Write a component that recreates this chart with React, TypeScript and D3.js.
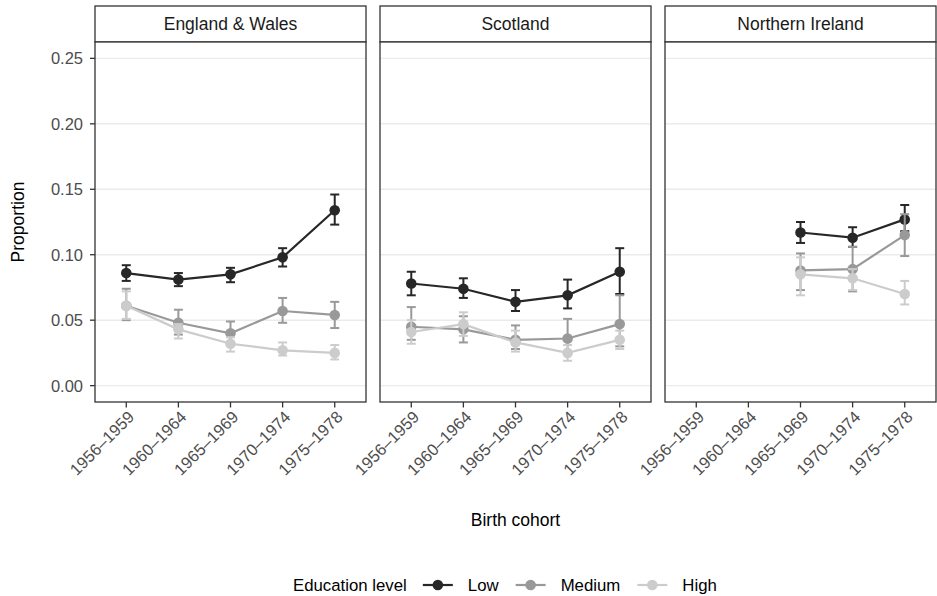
import React, { useRef, useEffect } from 'react';
import * as d3 from 'd3';

// Categories
const cohorts = ['1956–1959', '1960–1964', '1965–1969', '1970–1974', '1975–1978'];
const regions = ['England & Wales', 'Scotland', 'Northern Ireland'];
const levels = ['Low', 'Medium', 'High'];
const levelColors = ['#272727', '#999999', '#cccccc'];
const yTicks = [0, 0.05, 0.1, 0.15, 0.2, 0.25];

// England & Wales
const ewLow = [0.086, 0.081, 0.085, 0.098, 0.134];
const ewLowLo = [0.080, 0.076, 0.079, 0.091, 0.123];
const ewLowHi = [0.092, 0.086, 0.090, 0.105, 0.146];
const ewMed = [0.061, 0.048, 0.040, 0.057, 0.054];
const ewMedLo = [0.050, 0.039, 0.031, 0.048, 0.044];
const ewMedHi = [0.074, 0.058, 0.049, 0.067, 0.064];
const ewHigh = [0.061, 0.043, 0.032, 0.027, 0.025];
const ewHighLo = [0.051, 0.036, 0.026, 0.023, 0.020];
const ewHighHi = [0.072, 0.047, 0.037, 0.033, 0.031];

// Scotland
const scLow = [0.078, 0.074, 0.064, 0.069, 0.087];
const scLowLo = [0.069, 0.067, 0.057, 0.059, 0.070];
const scLowHi = [0.087, 0.082, 0.073, 0.081, 0.105];
const scMed = [0.045, 0.043, 0.035, 0.036, 0.047];
const scMedLo = [0.035, 0.033, 0.028, 0.025, 0.030];
const scMedHi = [0.060, 0.053, 0.046, 0.051, 0.069];
const scHigh = [0.041, 0.047, 0.033, 0.025, 0.035];
const scHighLo = [0.032, 0.038, 0.026, 0.019, 0.028];
const scHighHi = [0.050, 0.056, 0.042, 0.031, 0.042];

// Northern Ireland (no data for the first two cohorts)
const niLow = [null, null, 0.117, 0.113, 0.127];
const niLowLo = [null, null, 0.109, 0.106, 0.118];
const niLowHi = [null, null, 0.125, 0.121, 0.138];
const niMed = [null, null, 0.088, 0.089, 0.115];
const niMedLo = [null, null, 0.073, 0.072, 0.099];
const niMedHi = [null, null, 0.101, 0.106, 0.131];
const niHigh = [null, null, 0.085, 0.082, 0.070];
const niHighLo = [null, null, 0.069, 0.073, 0.062];
const niHighHi = [null, null, 0.098, 0.089, 0.080];

const panelData = [
  [[ewLow, ewLowLo, ewLowHi], [ewMed, ewMedLo, ewMedHi], [ewHigh, ewHighLo, ewHighHi]],
  [[scLow, scLowLo, scLowHi], [scMed, scMedLo, scMedHi], [scHigh, scHighLo, scHighHi]],
  [[niLow, niLowLo, niLowHi], [niMed, niMedLo, niMedHi], [niHigh, niHighLo, niHighHi]],
];

const FONT = '"Liberation Sans", Arial, Helvetica, sans-serif';

function FacetChart({ width = 937, height = 596 }) {
  const svgRef = useRef<SVGSVGElement>(null);

  useEffect(() => {
    const svg = d3.select(svgRef.current);
    svg.selectAll('*').remove();

    const left = 95, right = 936, gap = 14;
    const stripTop = 6, panelTop = 42, panelBottom = 402;
    const panelW = (right - left - gap * 2) / 3;

    const y = d3.scaleLinear().domain([-0.0125, 0.2625]).range([panelBottom, panelTop]);

    const root = svg.append('g').style('font-family', FONT);

    // y axis
    const yAxis = root.append('g');
    yTicks.forEach(t => {
      yAxis.append('line')
        .attr('x1', left - 5).attr('x2', left)
        .attr('y1', y(t)).attr('y2', y(t))
        .attr('stroke', '#333').attr('stroke-width', 1.3);
      yAxis.append('text')
        .attr('x', left - 12).attr('y', y(t))
        .attr('dy', '0.36em')
        .attr('text-anchor', 'end')
        .attr('fill', '#4d4d4d')
        .style('font-size', '16.5px')
        .text(d3.format('.2f')(t));
    });

    root.append('text')
      .attr('transform', `translate(24,${(panelTop + panelBottom) / 2}) rotate(-90)`)
      .attr('text-anchor', 'middle')
      .style('font-size', '17.5px')
      .text('Proportion');

    regions.forEach((region, ri) => {
      const x0 = left + ri * (panelW + gap);
      const x = d3.scalePoint<string>().domain(cohorts).range([x0, x0 + panelW]).padding(0.6);
      const g = root.append('g');

      // strip
      g.append('rect')
        .attr('x', x0).attr('y', stripTop)
        .attr('width', panelW).attr('height', panelTop - stripTop)
        .attr('fill', 'white').attr('stroke', '#333').attr('stroke-width', 1.3);
      g.append('text')
        .attr('x', x0 + panelW / 2).attr('y', (stripTop + panelTop) / 2)
        .attr('dy', '0.36em')
        .attr('text-anchor', 'middle')
        .attr('fill', '#1a1a1a')
        .style('font-size', '17.5px')
        .text(region);

      // panel background + grid
      g.append('rect')
        .attr('x', x0).attr('y', panelTop)
        .attr('width', panelW).attr('height', panelBottom - panelTop)
        .attr('fill', 'white');
      yTicks.forEach(t => {
        g.append('line')
          .attr('x1', x0).attr('x2', x0 + panelW)
          .attr('y1', y(t)).attr('y2', y(t))
          .attr('stroke', '#ebebeb').attr('stroke-width', 1.4);
      });

      // series
      const series = panelData[ri];
      series.forEach(([vals, lo, hi], li) => {
        const pts = cohorts.map((c, i) => ({ c, v: vals[i], lo: lo[i], hi: hi[i] }))
          .filter(d => d.v !== null);
        const color = levelColors[li];
        const line = d3.line<any>().x(d => x(d.c)!).y(d => y(d.v));
        g.append('path')
          .datum(pts)
          .attr('fill', 'none')
          .attr('stroke', color)
          .attr('stroke-width', 2.2)
          .attr('d', line);
        const eb = g.append('g');
        pts.forEach(d => {
          const cx = x(d.c)!;
          eb.append('line').attr('x1', cx).attr('x2', cx)
            .attr('y1', y(d.lo)).attr('y2', y(d.hi))
            .attr('stroke', color).attr('stroke-width', 2);
          [d.lo, d.hi].forEach(v => {
            eb.append('line').attr('x1', cx - 4.5).attr('x2', cx + 4.5)
              .attr('y1', y(v)).attr('y2', y(v))
              .attr('stroke', color).attr('stroke-width', 2);
          });
        });
        g.selectAll(null)
          .data(pts)
          .enter()
          .append('circle')
          .attr('cx', d => x(d.c)!)
          .attr('cy', d => y(d.v))
          .attr('r', 5.3)
          .attr('fill', color);
      });

      // panel border
      g.append('rect')
        .attr('x', x0).attr('y', panelTop)
        .attr('width', panelW).attr('height', panelBottom - panelTop)
        .attr('fill', 'none').attr('stroke', '#333').attr('stroke-width', 1.3);

      // x axis ticks + labels
      cohorts.forEach(c => {
        const cx = x(c)!;
        g.append('line')
          .attr('x1', cx).attr('x2', cx)
          .attr('y1', panelBottom).attr('y2', panelBottom + 5.5)
          .attr('stroke', '#333').attr('stroke-width', 1.3);
        g.append('text')
          .attr('transform', `translate(${cx + 9},${panelBottom + 16}) rotate(-45)`)
          .attr('text-anchor', 'end')
          .attr('fill', '#4d4d4d')
          .style('font-size', '16.5px')
          .text(c);
      });
    });

    // x axis title
    root.append('text')
      .attr('x', (left + right) / 2).attr('y', 526)
      .attr('text-anchor', 'middle')
      .style('font-size', '17.5px')
      .text('Birth cohort');

    // legend
    const legend = root.append('g').attr('transform', 'translate(293,585)');
    const title = legend.append('text')
      .attr('x', 0).attr('dy', '0.36em')
      .style('font-size', '16.8px')
      .text('Education level');
    let cursor = (title.node() as SVGTextElement).getComputedTextLength() + 16;
    levels.forEach((lvl, li) => {
      legend.append('line')
        .attr('x1', cursor).attr('x2', cursor + 30)
        .attr('stroke', levelColors[li]).attr('stroke-width', 2.2);
      legend.append('circle')
        .attr('cx', cursor + 15).attr('r', 5.3)
        .attr('fill', levelColors[li]);
      const t = legend.append('text')
        .attr('x', cursor + 45).attr('dy', '0.36em')
        .style('font-size', '16.8px')
        .text(lvl);
      cursor += 45 + (t.node() as SVGTextElement).getComputedTextLength() + 17;
    });
  }, [width, height]);

  return (
    <svg
      ref={svgRef}
      width={width}
      height={height}
      style={{ position: 'absolute', left: 0, top: 0, background: 'white' }}
    />
  );
}

export default function App() {
  return <FacetChart />;
}
